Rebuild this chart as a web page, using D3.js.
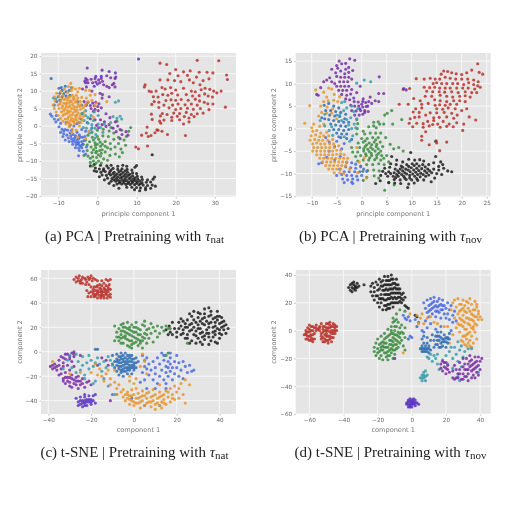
<!DOCTYPE html>
<html><head><meta charset="utf-8"><script src="https://cdn.jsdelivr.net/npm/d3@7"></script>
<style>html,body{margin:0;background:#fff}svg{display:block;filter:blur(0.5px)}</style></head><body><svg id="c" width="512" height="512"></svg>
<script>
const colors={red:"#b8332a",black:"#1d1d1d",green:"#3c8c3f",orange:"#e8952b",blue:"#4a6be0",steel:"#2f6db3",teal:"#3a9bab",purple:"#7a2ea5",indigo:"#5b34c4"};
// ---------- (a) PCA natural
const aRed=[[25.5,18.8],[31,18.7],[16,18],[17.7,17.6],[33,14.6],[33.2,13.3],[20,16.2],[22,15.5],[23.7,15.8],[23,14.5],[18.5,15],[20.6,14.4],[26,15.4],[28,15.4],[29.5,15.2],[25.3,14],[27,13],[28.5,13.5],[12.2,11.8],[12,11.2],[16,13.2],[18,13.2],[19.7,13],[21.3,12.7],[23.5,13.2],[24.5,12.4],[26.2,11.8],[15,10],[13.8,9.8],[13.2,10],[16.5,11],[17.3,10.6],[18.7,11],[20,10.3],[22,10.8],[24,10],[25,9.8],[26.5,10.4],[27.5,10.8],[28.7,10.5],[29.7,10],[30.5,9.5],[31.6,10],[14.3,8.4],[15.5,8.3],[16.7,9],[18,8.8],[19,9.4],[20.5,8.9],[22.7,9],[24.3,8.6],[26,8.7],[27.4,9.2],[28.3,8.6],[29.4,8.3],[14.5,7],[15.7,6.8],[17.5,7.3],[18.8,7.5],[20,7.4],[21.4,7.6],[23.2,7.4],[25,7.7],[26.1,7.2],[27.3,6.8],[13.9,6.2],[17,6],[19.2,6],[20.6,6.3],[22.4,6.1],[24,6.3],[25.5,6],[28.2,6.4],[29.5,6.3],[32.7,5.4],[15.7,5.3],[18.3,5.2],[20,4.7],[21.3,5],[23,5.1],[24.5,4.8],[26.3,5],[28.5,4.7],[13.8,3.4],[16.6,3.6],[17.8,3.3],[19.5,3.7],[21,3.6],[22.7,3.9],[24,3.3],[25.5,3.5],[27,3.7],[16.1,2.9],[19,2.5],[20.4,2.8],[22.2,2.7],[23.4,2.3],[24.7,2.7],[17,1.7],[15.9,1.4],[19,1.6],[21,1.8],[23.4,1.2],[22,0.6],[14,1.9],[16.2,0.8],[12.7,-0.3],[15.5,-1.2],[16.5,-1.5],[11.3,-2.6],[14.7,-1.9],[15.2,-1.1],[13.7,-2.7],[12.5,-2],[17.9,-2.4],[22.5,-2.7],[13,-3],[9.8,-6],[10.5,-6.5],[12.8,-5.7]];
const aBlack=[[14,-8.2],[10,-11.3],[9.6,-11.8],[7.5,-11.5],[6.5,-11.2],[5.2,-11.5],[3.5,-11.2],[2.4,-11.4],[0.8,-11.2],[-0.8,-11],[-1.8,-11.4],[-0.5,-12],[0.5,-12.3],[1.6,-12.2],[2.8,-12],[4,-12.1],[5.2,-12.4],[6.3,-12.2],[7.6,-12.4],[8.8,-12.6],[-0.2,-13],[0.9,-13.2],[2,-13],[3.2,-13],[4.3,-13.2],[5.5,-13.1],[6.6,-13.3],[7.7,-13.2],[9,-13.4],[10,-13.6],[1.2,-14],[2.3,-14.1],[3.4,-14],[4.6,-14.1],[5.7,-14],[6.8,-14.2],[7.9,-14.1],[9,-14.3],[10.2,-14.4],[11.3,-14.6],[2.6,-14.9],[3.7,-15],[4.8,-15],[5.9,-14.9],[7,-15.1],[8.1,-15],[9.2,-15.2],[10.3,-15.2],[11.5,-15.3],[12.8,-15.4],[14.6,-14.6],[14.2,-15.2],[3.5,-15.8],[4.7,-15.8],[5.8,-15.9],[6.9,-15.8],[8,-16],[9.1,-15.9],[10.2,-16],[11.4,-16.2],[12.5,-16.1],[13.6,-16],[5,-16.6],[6.2,-16.6],[7.3,-16.7],[8.4,-16.7],[9.5,-16.8],[10.6,-16.8],[11.7,-16.9],[12.8,-17],[14,-16.9],[14.8,-17.2],[5.5,-17.8],[7.5,-17.5],[8.8,-17.5],[10,-17.6],[11,-17.7],[12.3,-17.7],[13.6,-17.8],[9.5,-18.2],[10.8,-18.5],[12.3,-18.2],[4.2,-17],[3,-16.4],[1.8,-15.4],[0.5,-14.5],[-0.8,-12.8]];
const aBlackFill=[[4.2,-14.5],[5.2,-14.6],[6.3,-14.6],[7.4,-14.6],[8.5,-14.7],[9.6,-14.8],[4.2,-15.4],[5.3,-15.5],[6.4,-15.5],[7.5,-15.6],[8.6,-15.6],[9.7,-15.6],[10.8,-15.7],[5.6,-16.3],[6.7,-16.3],[7.8,-16.4],[8.9,-16.3],[10,-16.4],[11,-16.5],[3,-13.6],[4,-13.6],[5,-13.7],[6.1,-13.7],[7.2,-13.8],[8.3,-13.8],[1.5,-12.7],[3.5,-12.6],[6,-12.8],[7.1,-12.8]];
const aGreen=[[8.5,-0.4],[8,-1.5],[6.2,-1.2],[7.4,-3],[6.8,-4],[7.2,-5.5],[5.4,-3.2],[4.2,-2],[3,-1.4],[1.5,-0.9],[0,-1.2],[-1.4,-1.8],[-2.4,-2.6],[-3,-4],[-3.6,-5.2],[-2.6,-5.4],[-1.3,-3.2],[0,-3],[1.4,-2.8],[2.8,-3],[4.2,-3.8],[5.4,-5],[6,-6.6],[4.5,-6],[3.3,-5],[2,-4.4],[0.7,-4.6],[-0.6,-4.8],[-1.6,-6],[-2.6,-7],[-3.4,-8.4],[-2.4,-8.6],[-1.4,-7.6],[-0.4,-6.2],[0.8,-5.8],[2,-5.8],[3.4,-6.6],[4.6,-8],[3.2,-8.4],[2,-7.4],[0.6,-7],[-0.4,-7.6],[-1.2,-8.8],[-0.2,-9],[0.8,-8.6],[1.6,-9.4],[2.6,-9.8],[0.3,-10],[-1,-10],[-1.8,-10.4],[-1.2,-11.4],[-0.3,-10.6],[1,-10.6],[5.6,-8.8],[6.4,-7.6],[5,1.4],[3.5,-0.4],[-0.5,-5.5],[-1,-4],[1.2,-6.8],[0.2,-8.2],[-1,-6.8],[0,-5.2],[1.3,-5.2],[-2,-4.5],[0.3,-3.8],[-0.2,-7.2],[1,-7.8],[-1.8,-9.2],[2.6,-6.2]];
const aBlue=[[-12,3.4],[-11.6,2.8],[-11,2],[-10.6,1.2],[-10,1.8],[-9.4,0.8],[-9.8,-0.2],[-9,-0.9],[-8.2,-1],[-9.4,-1.8],[-8.6,-2.2],[-7.8,-2.6],[-7,-2],[-6.2,-2.4],[-5.2,-1.8],[-4.6,-2.6],[-7.4,-3.4],[-6.6,-3.6],[-5.8,-3.4],[-4.8,-3.6],[-3.8,-3.2],[-7.2,-4.4],[-6.4,-4.4],[-5.6,-4.6],[-4.8,-4.6],[-4,-4.4],[-6.3,-5.2],[-5.4,-5.4],[-4.6,-5.4],[-3.8,-5.2],[-5.6,-6.2],[-4.8,-6.3],[-4,-6.2],[-4.6,-7],[-3.6,-7.2],[-2.8,-6],[-4.8,-8.5],[-3,-8],[-8.8,-3],[-8.2,-4],[-3.2,-3],[-10.5,3],[-8,1],[-6,0],[-4,-1],[-5.2,0.7],[-7,0.2],[-3,-1.5],[-8.6,-1.4],[-7.6,-1.2],[-6.6,-1.2],[-5.6,-2.8],[-6.8,-2.8],[-4.4,-3.2],[-5.2,-4],[-6,-4],[-5,-5],[-4.2,-5.8],[-3.4,-4.2]];
const aSteel=[[-11.8,13.6],[-9.8,10.8],[-9.2,11],[-9,10.2],[-8.2,11.4],[-9.6,9.4],[-8.6,9.2],[-8,9.8],[-7.2,10.2],[-10,8.4],[-9,8.4],[-8,8.6],[-10.4,7],[-9.6,7.4],[-11,6],[-6.6,11],[-7,8.8],[-5,7],[-4,6],[-3.8,3.6],[-4.2,2],[-2.6,1],[-1.4,-0.5]];
const aTeal=[[-11.2,8],[-10.6,7.8],[-4,3.6],[-3,3],[-3.4,1.6],[-2.4,2.4],[-1.6,3],[-2.4,0.8],[-1.4,0.4],[-3.6,-0.4],[-2.8,-0.6],[-1.6,-1],[-0.6,-0.6],[0.2,0.6],[0.8,-0.4],[1.8,0.6],[-1,1.6],[-2,-2],[-0.4,-2.4],[4,2.7],[5,2.2],[5.8,2.8],[6.2,2],[3.4,1],[-0.8,4],[-4.6,1],[-3,4.4],[0.2,3],[1.4,-1.8],[4.6,6.8],[5.4,7.2],[-0.6,-3.4]];
const aOrange=[[-11,8.4],[-10.4,9.4],[-9.4,9.9],[-8.4,10.6],[-7.4,11.3],[-6.4,11],[-6.8,12.2],[-6.6,10.2],[-5.6,10.6],[-5,9.8],[-4.6,10.8],[-7.6,9.6],[-8.8,8.8],[-9.8,8.6],[-10.8,7.2],[-11.3,6],[-11,5],[-10.5,4],[-10,3],[-9.4,2.2],[-8.8,1.4],[-8,0.6],[-7.2,-0.2],[-6.4,-0.9],[-5.4,-1.2],[-4.6,0],[-4.2,1],[-3.8,1.8],[-3.6,2.8],[-3.4,4],[-3.6,5.2],[-3,6.4],[-2.4,7],[-1.4,7.4],[-1.8,8.8],[-0.6,9],[-2.8,8],[-4,8.2],[-3,10.2],[-10,6],[-9.4,7],[-8.4,7.6],[-7.4,8.2],[-6.4,8.8],[-5.4,8.8],[-4.4,7],[-9.8,5],[-8.9,5.8],[-7.9,6.6],[-6.9,7.2],[-5.9,7.6],[-4.9,6.2],[-9.2,4],[-8.3,4.8],[-7.3,5.4],[-6.3,6.2],[-5.3,5.4],[-4.3,4.8],[-8.8,3],[-7.9,3.6],[-6.9,4.2],[-5.9,4.8],[-4.9,3.8],[-8.2,2],[-7.4,2.6],[-6.4,3.2],[-5.4,2.6],[-4.4,3],[-7.6,1.2],[-6.8,1.6],[-5.9,2],[-5,1.2],[-6.8,0.4],[-5.8,0.6],[-9.6,6.4],[-8.6,6.6],[-7.6,7.4],[-6.6,7],[-5.6,6.8],[-7,5.8],[-6,5.6],[-8,5.4],[-7.6,4.4],[-6.6,5],[-5.6,4.2],[-4.6,5.6],[-8.6,4.4],[-7,3],[-6,1.2],[-5.2,3.2],[-2,10.2],[-0.6,5.8],[2.4,7],[-5,-3.2],[-6.5,-1.8],[-3,-3.6],[-2.2,-1.5],[-1,2.5],[-3.2,5.8],[-0.2,6.6],[-9.1,7.8],[-8,8],[-7,8.4],[-6,8.2],[-5,8],[-9,5.2],[-8,6.2],[-7.2,6.6],[-6.2,7.8],[-5.2,7.2],[-8.4,3.4],[-7.4,3.8],[-6.2,3.8],[-5.2,4.6],[-4.2,6],[-7.6,2],[-6.6,2.2],[-5.6,3],[-4.6,2.2],[-7.2,0.9],[-6.2,1.4],[-5.4,1.8]];
const aPurple=[[-2.6,16.6],[1.2,16],[2.4,14.4],[3.4,13.8],[4.5,13.6],[4.7,14],[-3,13.6],[-2.6,13.2],[-1.6,13.4],[-0.6,13.6],[0.3,13.2],[1,13.6],[1.3,12.8],[-3,12.4],[-2.4,12.4],[-1.2,12.4],[-0.4,12.6],[0.6,12.4],[1.6,11.8],[3.8,11.8],[4.2,12.2],[3,11],[4.5,11.2],[-2.8,11.2],[2.4,11.4],[0.7,9.4],[1.3,9],[-1.4,10],[-3.8,10.6],[1.2,8],[3,8.4],[-3.4,7],[-2.4,6.8],[-1.2,6.6],[-0.4,6.8],[0.4,6.4],[-2.8,6],[-1.8,5.9],[-0.8,5.8],[0.1,5.6],[1,5.2],[-1.6,5],[-0.6,4.8],[0.2,4.4],[-1,4.2],[2.2,3.5],[-0.6,1.8],[0.8,1.8],[1.8,1.2],[3,0.4],[2.2,-0.1],[4,-0.6],[4.6,1.2],[5.2,0],[5.8,-1],[4.8,-1.6],[6.3,-2.4],[5.8,-3.6],[7.3,-1.6],[7.8,-2.6],[3.2,2.4],[0.3,-0.5],[1.2,0.4],[-0.2,0.2],[-1.8,2.1]];
const aIndigo=[[10.5,19.2],[-0.4,14.2],[1,14.2],[3,15.6],[4.6,15.2],[-3.2,12.8],[0,12],[-0.8,11.4]];
// ---------- (b) PCA novel
const bRed=[[23.2,14.4],[24.2,12.1],[23.5,12.5],[21,12.4],[22,13],[16.4,12.8],[17.2,12.7],[15.9,12.1],[18,12.4],[18.9,12.2],[20,12],[10.9,11.1],[12.5,11],[13.7,11.2],[14.7,11],[15.6,11],[16.7,11.4],[17.7,11.2],[18.8,11],[20,11],[21.2,11],[22.4,10.8],[23.3,10.4],[14.3,10],[15,10.2],[16,10],[17,10],[18.2,10],[19.2,10],[20.4,9.8],[21.4,10.2],[22.4,9.8],[23.2,9.5],[8.3,8.7],[9.6,8.9],[12.5,9.2],[13.6,9.1],[14.6,9.2],[15.6,9],[16.7,9],[17.7,9],[19,9],[20.2,9],[21.3,9],[22.6,8.8],[23.7,9.2],[13,8.3],[14.2,8.2],[15.5,8.2],[16.6,8.1],[18,8.2],[19.3,8],[20.7,8.2],[22,8],[23,8],[12.7,7.2],[14,7.2],[15.7,7.4],[17,7.2],[18.2,7],[19.6,7.2],[20.7,7.3],[21.7,7],[10.4,6.7],[11.7,6.2],[14.6,6.4],[15.7,6.2],[17,6],[18.4,6.2],[19.6,6.2],[20.7,6],[7.5,5.4],[9.3,5.4],[12,5.4],[13.3,5.6],[14.7,5.2],[15.6,5.3],[16.7,5.2],[17.7,5.4],[19,5.4],[10.8,4.4],[12,4.6],[15,4.4],[16.2,4.3],[17.3,4.6],[18.7,4.4],[20,4],[10.3,3.7],[11.5,3.6],[13.7,3.5],[15,3.5],[16.5,3.6],[18,3.4],[19.1,3],[21,4.4],[12.8,3],[14.4,2.4],[15.5,2.5],[17,2.6],[18.4,2.3],[21.5,2.6],[9.7,2.2],[10.6,2.5],[11.5,2.6],[13.2,1.6],[14.4,1.8],[16.3,1.6],[22.8,1.9],[9.5,1.2],[11,1.2],[12.3,1.1],[13.5,0.6],[14.2,0.9],[15.2,1],[17.5,1],[19,1.3],[20.4,1],[10.2,0.4],[12.3,0.3],[12.8,-0.7],[15.7,0.3],[17,0.5],[18.3,0.4],[20.2,-0.4],[12,-1.7],[12,-2.6],[13.5,-3.6],[15,-3.2],[17,-3],[15.6,-4.9],[14.9,-2.7]];
const bBlack=[[14.8,-2.8],[9.8,-5.3],[6,-6.2],[7,-7],[8.2,-7.4],[9.4,-6.8],[10.6,-7],[11.6,-6.9],[12.4,-7.2],[14.8,-6.2],[15.8,-7.4],[16.2,-8],[5.8,-7.8],[6.9,-8],[7.9,-8.3],[9,-8],[10.1,-7.8],[11,-7.8],[12.2,-8],[13.4,-8],[14.4,-7.6],[15.4,-8.4],[16.4,-8.8],[4.6,-8.8],[5.6,-8.6],[6.7,-9],[7.7,-9],[8.8,-9],[9.9,-8.7],[11,-8.8],[12,-8.9],[13.2,-9],[14.4,-9],[15.4,-9.2],[17.2,-9.4],[18,-9.6],[4.2,-9.5],[5.4,-9.6],[6.5,-9.8],[7.5,-9.8],[8.6,-9.8],[9.7,-9.6],[10.8,-9.7],[11.8,-9.9],[13,-9.8],[14,-9.8],[15,-10],[16,-10.2],[3.8,-10.4],[5.2,-10.6],[6.3,-10.6],[7.3,-10.6],[8.4,-10.6],[9.6,-10.4],[10.6,-10.6],[11.7,-10.7],[12.8,-10.6],[14.6,-11],[6.5,-11.3],[7.7,-11.4],[8.9,-11.3],[10,-11.4],[11.2,-11.5],[12.4,-11.4],[3.7,-11.6],[5.4,-12],[6.6,-12.1],[7.8,-12.2],[9.4,-12.3],[10.5,-12.1],[2.8,-12.2],[9.2,-13.1],[13.9,-11.8],[8.2,-8.6],[9.4,-8.4],[10.5,-8.2],[11.5,-8.3],[12.7,-8.5],[7.2,-9.4],[8.2,-9.4],[9.3,-9.2],[10.4,-9.2],[11.4,-9.3],[12.6,-9.4],[13.6,-9.4],[7,-10.2],[8,-10.2],[9,-10.1],[10.2,-10.1],[11.2,-10.2],[12.3,-10.2],[13.4,-10.3],[6.8,-10.9],[8.6,-11],[9.6,-11],[11,-11.1],[5.8,-10],[4.8,-10]];
const bGreen=[[4.6,-13.7],[6.5,-12.5],[5.4,-12],[0.3,-11.5],[1,-10.8],[2.5,-10.5],[3.4,-11],[0.2,-9.5],[1.2,-9.3],[2.4,-9.2],[3.5,-9.4],[-0.2,-8.3],[1,-8],[2.2,-8],[3.4,-7.8],[4.5,-8],[5.4,-7.4],[-0.8,-7.2],[0.3,-7],[1.4,-7],[2.6,-6.9],[3.8,-7],[-1.2,-6.2],[-0.2,-6],[0.9,-6],[2,-6],[3,-5.9],[4,-6],[5,-6],[-1.8,-5.2],[-0.8,-5.2],[0.4,-5],[1.5,-5.1],[2.7,-5],[3.8,-5],[-2,-4.2],[-0.4,-4.2],[0.7,-4],[1.8,-4.2],[2.9,-4],[4.2,-4],[6.4,-4.5],[7.4,-4.2],[-0.7,-3.2],[0.3,-3],[1.5,-3.2],[2.5,-3],[3.7,-3],[0,-2.2],[1.1,-2.2],[2.2,-2],[3.3,-2],[4.8,-2],[-1,-1.2],[0.6,-1.2],[1.7,-1],[2.8,-1],[3.8,-1],[-0.9,0],[0.3,-0.6],[1.4,0.4],[2.4,0.6],[3.6,1],[2.9,0.2],[2.4,1.4],[3.3,1.5],[4.4,1],[-1,2],[-0.8,1.1],[4.6,3],[5.1,3.4],[6,4],[8,2],[6.2,1],[5.7,-3.5],[8.3,-5],[0.4,-4.5],[1.2,-4.6],[2.2,-4.6],[3.3,-4.5],[0.8,-5.6],[1.9,-5.5],[3.4,-5.5],[1,-3.6],[2,-3.6],[3,-3.5],[1.6,-6.5],[3,-6.5],[4.4,-6.6],[0.7,-2.7],[2.8,-2.5]];
const bBlue=[[-8.6,-7.8],[-8,-7.6],[-7,-6.4],[-5.4,-7],[-4.3,-6.2],[-3,-7.5],[-2,-7.6],[-1.2,-7.9],[-3.2,-8.5],[-2.2,-8.7],[-1.2,-8.8],[-0.2,-8.5],[-4.4,-9],[-3.5,-9.6],[-2.5,-9.6],[-1.4,-9.6],[-0.4,-9.6],[0.4,-9],[-5,-10.4],[-4,-10.2],[-3,-10.4],[-2,-10.4],[-1,-10.6],[0,-10.4],[-3.8,-11.2],[-2.8,-11.4],[-1.8,-11.2],[-0.8,-11.4],[-3.5,-12],[-1.8,-12.2],[-2,-11.9],[-6.5,-5],[-6.5,-3],[-5.4,-4],[-7.2,-2],[-4.6,-1.8],[-4,-4.5],[-5,-2.8],[-3.5,-3.3],[1,-9.5]];
const bSteel=[[-7.5,5.2],[-6.6,5.6],[-5.6,5],[-4.6,4.6],[-7.2,4],[-6.2,4],[-5.2,3.8],[-4.2,3.6],[-3.2,3.2],[-6.4,3],[-5.4,2.8],[-4.4,2.7],[-3.4,2.2],[-7.4,2.2],[-6.6,2],[-5.6,1.8],[-4.6,1.6],[-3.6,1.4],[-2.6,1.4],[-6.2,1],[-5.2,0.8],[-4.2,0.6],[-3.2,0.5],[-5.6,-0.2],[-4.6,-0.2],[-3.6,-0.4],[-2.6,-0.2],[-5,-1],[-4,-1.2],[-3,-1.2],[-4.2,-2],[-3,-2.2],[-8,2.4],[-2,-2.4]];
const bTeal=[[0.5,10.8],[1.8,10.4],[-1,10.1],[-3.4,6],[-3,4.6],[-2,5],[-7.4,3.2],[-8.3,1.8],[-7.4,0.6],[-6.5,-0.4],[-1.6,3.8],[-1,2.2],[-2.2,2.4],[-1.5,1],[-2,0],[-1.8,-1.6],[-5.8,-1.5],[-4,5.8],[-4.4,3],[-3,2],[-3.6,4],[-5,3],[-4,1.8],[-2.6,0.8],[-6,0.4],[-3.5,-1.8],[-2.4,-2.8],[-1.2,0.2],[-0.8,4.4]];
const bOrange=[[-11.4,1.2],[-10.4,5.1],[-9.2,8.6],[-7.6,8.1],[-6.6,9],[-6,8.8],[-5.5,7.6],[-4.4,7.1],[-7,7],[-7.6,6],[-6.7,6.2],[-5.6,6.3],[-4.8,6],[-8.2,5],[-6.9,4.8],[-5.8,4.4],[-8,3.6],[-7,3.4],[-6,3.4],[-5,2.2],[-8.6,2.8],[-7.6,1],[-8.4,0.5],[-9.6,1],[-10,0.2],[-9.8,-0.6],[-9,-0.4],[-8.2,-1],[-7,-0.8],[-10.1,-1.6],[-9.2,-1.4],[-8.4,-1.8],[-7.6,-1.6],[-6.6,-1.6],[-10.3,-2.6],[-9.4,-2.4],[-8.6,-2.6],[-7.8,-2.6],[-6.8,-2.6],[-5.8,-2.4],[-9.8,-3.4],[-9,-3.2],[-8.2,-3.4],[-7.4,-3.4],[-6.4,-3.4],[-5.6,-3.4],[-9.6,-4.2],[-8.8,-4.2],[-8,-4.2],[-7.2,-4.2],[-6.4,-4.2],[-5.5,-4.2],[-4.6,-3.8],[-9.8,-5],[-9,-5],[-8.2,-5],[-7.4,-5],[-6.6,-5],[-5.8,-5],[-5,-4.8],[-4.2,-4.8],[-9,-5.8],[-8.2,-5.8],[-7.4,-5.8],[-6.6,-5.8],[-5.8,-5.8],[-5,-5.7],[-4.2,-5.6],[-3.5,-5.8],[-8.4,-6.6],[-7.6,-6.6],[-6.8,-6.6],[-6,-6.6],[-5.2,-6.6],[-4.4,-6.6],[-3.6,-6.6],[-2.8,-6.6],[-7.8,-7.4],[-7,-7.4],[-6.2,-7.4],[-5.4,-7.4],[-4.6,-7.4],[-3.8,-7.4],[-3,-7.4],[-7.2,-8.2],[-6.4,-8.2],[-5.6,-8.2],[-4.8,-8.2],[-4,-8.2],[-3.2,-8.2],[-6.6,-9],[-5.8,-9],[-5,-9],[-4.2,-9],[-5.5,-9.8],[-4.4,-9.8],[-3.6,-10],[-2.4,-9],[-0.5,-7.4],[-0.8,-9.8],[1,-11],[0.5,-6.5],[-1,-4.2]];
const bPurple=[[-4.5,15],[-2.4,15.5],[-1.4,15.2],[-5,14],[-4,14.4],[-3.2,14.5],[-6,13.2],[-4.8,13.4],[-3.2,13.2],[-2.6,13.6],[-5.2,12.4],[-4.2,12.8],[-3.4,12.2],[-2.6,12.5],[-1.8,12.9],[-5,11.6],[-4.2,11.4],[-3.4,11.4],[-2.6,11.4],[-2,11],[-6.4,11.3],[-7,10.8],[-6,10.4],[-5.4,10],[-4.4,10.4],[-3.6,10.4],[-2.8,10.4],[-7.6,10.4],[-5,9.4],[-4.2,9.4],[-3.4,9.4],[-2.6,9.4],[-8.2,9.1],[-4.6,8.5],[-3.8,8.5],[-3,8.5],[-2,8.7],[-9,7.6],[-8.7,7.4],[-4,7.6],[-3,7.4],[-2.2,7.7],[-3.2,6.6],[-2.4,6.4],[-1.5,6],[-0.7,5.9],[0,5.4],[0.8,5.8],[1.4,6],[-2.2,5.2],[-1.4,5],[-0.6,5],[0.2,4.8],[0.9,4.9],[2,5.6],[2.7,6.2],[3.4,6],[-2,4],[-1.1,3.9],[-0.2,4],[0.6,4],[-1.4,3],[-0.5,3],[0.2,3.2],[1.3,3.8],[0.3,6.6],[1.7,7],[3.4,7.8],[4.4,7.8],[3.5,11.5],[-0.3,9.4],[-1,8]];
const bIndigo=[[8.4,8.9],[8.9,8.6],[-1.6,6.8],[0.2,6],[1.2,5],[-0.4,4.4],[0.6,3.6]];
// ---------- (c) t-SNE natural
const cRed=[[-28,59],[-27,61],[-26,58],[-25.5,62],[-24.5,59],[-24,56],[-23,60],[-22,57],[-21.5,61],[-21,59],[-20,62],[-19.5,58],[-19,60],[-18,59],[-27,57],[-25,56],[-22.5,55],[-21,55],[-17,58],[-16,55],[-15,58],[-14,56],[-13,59],[-12,58],[-11,59],[-17.5,53],[-16,52],[-15,54],[-14,52],[-13,54],[-12,53],[-11.5,55],[-20,53],[-19,51],[-18,50],[-17,50],[-16,49],[-15,50],[-14,49],[-13,50],[-12,49],[-11,51],[-22,50],[-21,48],[-20,49],[-19,47],[-18,47],[-17,47],[-16,46],[-15,47],[-14,46],[-13,47],[-12,46],[-11,47],[-21.5,45],[-20,45],[-18.5,45],[-17,44],[-15.5,44],[-14,44],[-12.5,44],[-11,44.5],[-26,60],[-24,61],[-22.5,59],[-25,57.5],[-20.5,60],[-17,54],[-18.5,53],[-15.5,51.5],[-13.5,51],[-19,49],[-17,48.5],[-15,48.5],[-13,48],[-18,45.8],[-15,45.5],[-12,51]];
const cBlack=[[15,18],[16.5,21],[18,24],[19,19],[20,16],[18,14],[21,24],[22,21],[23,18],[22,14],[24,11],[20,12],[25,26],[24,23],[25,20],[26,17],[25,14],[27,9],[29,7],[26,7],[27,29],[28,26],[27,23],[28,20],[29,17],[28,14],[30,11],[31,8],[30,32],[30,28],[31,25],[30,22],[31,19],[31,15],[32,12],[33,10],[33,35],[33,31],[33,28],[34,25],[33,22],[34,18],[34,15],[35,12],[36,9],[36,33],[36,30],[37,27],[36,24],[37,20],[37,16],[37,12],[38,8],[39,33],[39,29],[39,26],[40,23],[39,19],[40,15],[40,11],[39,7],[41,28],[42,25],[42,21],[42,18],[41,14],[43,22],[44,19],[43,15],[22,27],[26,31],[28,33],[35,36],[32,6],[35,6],[17,16],[16,14],[23,25],[24,20],[26,22],[27,18],[29,24],[29,13],[30,19],[32,27],[32,23],[32,16],[35,29],[35,23],[35,20],[35,15],[38,24],[38,21],[38,17],[38,14],[38,28],[41,20],[41,24],[40,29],[33,13],[31,31],[21,19],[23,15],[25,11],[40,18]];
const cGreen=[[-9,21],[-8,16],[-7,19],[-6,22],[-8,12],[-7,9],[-6,14],[-5,17],[-5,23],[-5,7],[-4,11],[-4,20],[-3,15],[-3,24],[-3,5],[-2,18],[-2,9],[-1,13],[-1,22],[-1,3],[0,16],[0,7],[1,20],[1,11],[1,24],[2,14],[2,5],[3,18],[3,9],[4,22],[4,12],[4,3],[5,15],[5,25],[6,7],[7,19],[7,11],[8,23],[8,15],[9,20],[9,8],[10,17],[11,21],[11,12],[12,15],[13,20],[14,17],[15,21],[16,19],[-7,12],[-6,17],[-3,10],[-2,14],[-5,12],[-1,9],[-2,4],[-9,9],[6,14],[3,14],[0,12],[17,19],[25,7],[15,-3],[16,-1],[-6,7],[-4,16],[-4,13],[-2,20],[-1,17],[1,16],[2,10],[2,19],[3,7],[-6,11],[-3,19],[-5,20],[-1,6],[1,8],[4,9],[5,11],[6,18],[5,21],[0,20]];
const cSteel=[[-10,-3],[-9,-8],[-9,-13],[-8,-2],[-8,-6],[-8,-11],[-8,-16],[-7,-4],[-7,-9],[-7,-14],[-7,-19],[-6,-1],[-6,-6],[-6,-12],[-6,-17],[-5,-3],[-5,-8],[-5,-14],[-5,-20],[-4,-1],[-4,-5],[-4,-10],[-4,-16],[-3,-3],[-3,-8],[-3,-13],[-3,-18],[-2,-5],[-2,-11],[-2,-15],[-1,-3],[-1,-8],[-1,-13],[-1,-18],[0,-6],[0,-11],[0,-15],[1,-5],[1,-9],[1,-13],[-5,-11],[-3,-6],[-7,-12],[-4,-13],[-2,-8],[-6,-9],[2,-8],[-1,-11],[-10,-10],[-18,2],[-17,2],[-8,-8],[-6,-4],[-5,-6],[-4,-8],[-3,-10],[-3,-15],[-2,-3],[-2,-13],[-1,-6],[0,-9],[0,-13],[-5,-16],[-7,-7],[-6,-15]];
const cBlue=[[4,-3],[6,-5],[7,-10],[5,-12],[8,-15],[4,-17],[7,-19],[5,-23],[9,-8],[10,-13],[10,-18],[9,-23],[11,-5],[11,-26],[12,-10],[13,-15],[12,-20],[14,-7],[14,-3],[15,-12],[15,-17],[14,-23],[16,-8],[16,-13],[16,-20],[17,-5],[17,-10],[17,-16],[18,-13],[18,-23],[19,-8],[19,-18],[20,-3],[20,-13],[21,-9],[21,-20],[22,-15],[23,-8],[23,-22],[24,-12],[25,-17],[26,-11],[27,-16],[28,-15],[13,-1],[17,-1],[10,-30],[6,-30],[3,-25],[15,-26],[-1,-38],[5,-44],[15,-30],[-10,-35],[6,-14]];
const cOrange=[[-16,-14],[-15,-20],[-14,-24],[-13,-18],[-12,-15],[-11,-22],[-11,-27],[-17,-19],[-9,-25],[-8,-30],[-8,-35],[-7,-27],[-6,-33],[-5,-37],[-5,-31],[-4,-35],[-4,-40],[-3,-33],[-3,-38],[-2,-43],[-2,-36],[-1,-31],[-1,-40],[0,-35],[0,-44],[1,-38],[1,-30],[2,-42],[2,-34],[3,-37],[3,-46],[4,-32],[4,-40],[5,-36],[5,-44],[6,-38],[7,-33],[7,-41],[8,-37],[8,-45],[9,-31],[9,-40],[10,-35],[10,-47],[11,-42],[12,-37],[12,-33],[13,-41],[13,-46],[14,-35],[14,-39],[15,-43],[15,-32],[16,-37],[17,-41],[17,-30],[18,-35],[19,-39],[19,-28],[20,-33],[21,-38],[21,-30],[22,-26],[23,-35],[24,-42],[26,-27],[24,-23],[1,-22],[3,-12],[5,-8],[6,-18],[4,-2],[-2,-24],[0,-26],[-9,-15],[-18,-10],[-20,-17],[12,-27],[-30,-18],[-38,-8],[-2,-20],[-25,-17],[-2,-39],[0,-41],[2,-38],[4,-36],[6,-42],[8,-41],[9,-36],[10,-43],[11,-38],[12,-44],[13,-36],[14,-42],[16,-33],[-3,-35],[-1,-36],[1,-42],[6,-34],[18,-38],[3,-41]];
const cTeal=[[-31,-7],[-29,-13],[-27,-2],[-26,-8],[-25,-15],[-24,-4],[-24,-11],[-23,-19],[-22,-9],[-21,-3],[-21,-14],[-20,-7],[-19,-12],[-18,-24],[-17,-5],[-16,-10],[-15,-16],[-14,-8],[-13,-13],[-12,-4],[-14,-22],[-10,-11],[-27,-17],[-23,-22],[-9,-35],[-8,-35],[-12,-28],[5,-7],[12,-44],[-33,-14],[-18,-9],[-30,-3],[-11,-7],[-19,-26]];
const cPurple=[[-39,-12],[-38,-14],[-37,-10],[-37,-13],[-36,-15],[-35,-7],[-35,-11],[-35,-19],[-34,-4],[-34,-14],[-33,-9],[-33,-22],[-32,-2],[-32,-6],[-32,-17],[-32,-26],[-31,-11],[-31,-21],[-30,-4],[-30,-15],[-30,-25],[-29,-1],[-29,-8],[-29,-19],[-29,-29],[-28,-4],[-28,-23],[-28,0],[-27,-27],[-26,-20],[-26,-24],[-26,-30],[-25,-3],[-25,-27],[-24,-22],[-24,-26],[-23,-29],[-22,-25],[-21,-24],[-20,-27],[-33,-5],[-36,-12],[-30,-28],[-27,-24],[-34,-18],[-31,-24],[-28,-12],[-17,-11],[-15,-5],[-13,-7],[-12,-11],[-11,-40],[-33,-24],[-38,-11],[-33,-12],[-30,-6],[-31,-2],[-28,-2],[-28,-26],[-25,-24],[-29,-22],[-32,-21],[-27,-21],[-30,-21]];
const cIndigo=[[-27,-38],[-26,-41],[-25,-37],[-25,-43],[-24,-40],[-24,-45],[-23,-37],[-23,-42],[-22,-39],[-22,-44],[-21,-41],[-21,-36],[-20,-43],[-20,-39],[-19,-40],[-19,-36],[-18,-35],[-18,-42],[-23,-35],[-26,-44],[-24,-42],[-25,-40],[-23,-40],[-22,-41],[-21,-39],[-23,-44],[-20,-41]];
// ---------- (d) t-SNE novel
const dRed=[[-63,-3],[-62,0],[-62,-6],[-61,2],[-61,-4],[-60,4],[-60,-1],[-60,-7],[-59,3],[-59,-3],[-58,0],[-58,-6],[-58,-8],[-57,2],[-57,-2],[-56,4],[-55,1],[-54,3],[-54,0],[-53,-2],[-53,5],[-52,-5],[-52,1],[-52,-8],[-51,3],[-51,-3],[-50,5],[-50,0],[-50,-7],[-49,-4],[-49,-9],[-49,2],[-48,6],[-48,-1],[-48,-6],[-47,3],[-47,-2],[-47,-8],[-46,5],[-46,0],[-46,-5],[-45,2],[-45,4],[-45,-2],[-44,3],[-44,0],[-56,0],[-59,-5],[-61,-1],[-48,4],[-50,-2],[-52,-1],[-62,-3],[-61,-6],[-60,1],[-59,0],[-58,-3],[-58,3],[-56,2],[-60,-4],[-59,-7],[-57,-6],[-54,2],[-52,3],[-51,-6],[-51,0],[-50,2],[-50,-4],[-49,0],[-49,-7],[-48,2],[-48,-4],[-47,0],[-47,-5],[-46,3],[-46,-2],[-45,0],[-49,5],[-51,-8],[-53,-6],[-53,-4],[-62,-2]];
const dBlack=[[-37,31],[-36,33],[-36,29],[-35,31],[-35,34],[-34,30],[-34,33],[-33,29],[-33,32],[-32,34],[-32,31],[-31,32],[-28,33],[-24,32],[-24,28],[-23,34],[-23,25],[-22,31],[-22,22],[-22,28],[-21,35],[-21,25],[-20,33],[-20,20],[-20,29],[-19,37],[-19,23],[-19,17],[-18,26],[-18,32],[-18,20],[-17,36],[-17,29],[-17,23],[-17,15],[-16,39],[-16,33],[-16,26],[-16,18],[-15,36],[-15,30],[-15,22],[-15,15],[-14,39],[-14,33],[-14,26],[-14,19],[-13,36],[-13,30],[-13,23],[-13,16],[-12,40],[-12,33],[-12,27],[-12,20],[-11,37],[-11,30],[-11,23],[-11,17],[-10,34],[-10,27],[-10,20],[-9,37],[-9,30],[-9,23],[-8,33],[-8,27],[-8,20],[-7,30],[-7,24],[-6,26],[-6,20],[-5,27],[-5,22],[-4,24],[-4,18],[-3,17],[-2,16],[2,11],[3,10],[-35,28],[-34,35],[-33,31],[-20,25],[-19,30],[-18,35],[-18,23],[-17,32],[-16,29],[-16,22],[-15,33],[-15,26],[-15,18],[-14,36],[-14,29],[-14,23],[-14,16],[-13,33],[-13,26],[-13,19],[-12,37],[-12,30],[-12,24],[-11,34],[-11,27],[-11,20],[-10,31],[-10,24],[-9,33],[-9,27],[-9,20],[-8,30],[-8,24],[-7,27],[-7,21],[-6,23]];
const dGreen=[[-22,-15],[-22,-12],[-21,-18],[-21,-9],[-20,-13],[-20,-6],[-20,-16],[-19,-20],[-19,-10],[-18,-14],[-18,-4],[-18,-18],[-17,-8],[-17,-11],[-17,-21],[-16,-16],[-16,-2],[-16,-6],[-15,-12],[-15,-19],[-15,-9],[-14,-15],[-14,-4],[-14,1],[-13,-10],[-13,-18],[-13,-7],[-12,-13],[-12,-2],[-12,3],[-12,-16],[-11,-8],[-11,-5],[-11,-11],[-11,6],[-11,9],[-10,0],[-10,-14],[-10,-3],[-9,-10],[-9,3],[-9,-7],[-9,12],[-8,-12],[-8,-1],[-8,6],[-7,-9],[-7,-5],[-7,2],[-7,15],[-6,-7],[-6,-1],[-6,4],[-5,-2],[-5,-11],[-4,-5],[-4,-14],[-10,-17],[-11,-20],[-14,-21],[-4,2],[-10,7],[-12,-10],[-15,-16],[-17,-14],[-4,14],[-19,-15],[-18,-9],[-16,-12],[-15,-5],[-14,-12],[-14,-18],[-13,-14],[-13,-3],[-12,-7],[-11,-14],[-11,-2],[-10,-10],[-10,-6],[-9,-13],[-9,-3],[-8,-8],[-8,-4],[-9,8],[-10,3],[-12,0],[-7,-2],[-16,-9],[-18,-12]];
const dBlue=[[7,20],[8,16],[9,22],[9,13],[10,18],[10,10],[11,23],[11,15],[12,20],[12,12],[13,17],[13,24],[14,14],[14,10],[15,21],[15,17],[16,23],[16,13],[17,19],[17,9],[18,15],[18,22],[19,12],[19,18],[20,9],[20,16],[21,20],[21,12],[22,15],[22,8],[23,18],[24,11],[24,6],[25,14],[26,7],[-5,11],[-4,9],[-3,8],[-2,10],[-1,7],[-1,-4],[0,-5],[7,-1],[9,2],[6,0],[11,5],[14,1],[8,7],[17,3],[23,0],[21,-6],[2,8],[4,6],[11,19],[13,21],[14,18],[12,16],[16,18],[17,15],[15,14],[18,18],[10,14]];
const dOrange=[[3,11],[5,9],[6,12],[4,5],[7,5],[9,9],[11,10],[13,6],[15,5],[19,3],[21,3],[23,15],[24,20],[25,22],[26,17],[27,23],[27,12],[27,5],[28,19],[28,-1],[29,15],[29,8],[29,-7],[30,22],[30,11],[30,3],[30,-4],[31,18],[31,6],[31,-10],[32,13],[32,21],[32,1],[32,-6],[33,16],[33,9],[33,-2],[34,23],[34,4],[34,-11],[35,19],[35,12],[35,-4],[36,7],[36,1],[36,15],[36,-9],[37,21],[37,10],[37,-1],[38,17],[38,4],[38,-6],[39,12],[39,8],[39,14],[40,10],[41,8],[38,19],[35,-12],[30,-8],[26,2],[24,-3],[22,-9],[-5,-16],[-1,12],[25,9],[28,14],[33,20],[31,14],[34,8],[36,3],[29,4],[32,-11],[28,9],[28,4],[30,16],[30,7],[31,1],[32,9],[32,-3],[33,5],[34,14],[34,-1],[34,-7],[35,8],[35,2],[36,11],[37,5],[37,15],[33,-9],[31,-4],[38,10],[29,19]];
const dSteel=[[5,-13],[6,-11],[6,-15],[7,-9],[7,-13],[8,-11],[8,-15],[9,-13],[9,-9],[10,-16],[10,-11],[11,-14],[7,-4],[6,-6],[9,-5],[12,-3],[13,-7],[14,-4],[14,-10],[15,-1],[15,-7],[16,-12],[16,-4],[17,-9],[17,-1],[18,-6],[18,-11],[19,-3],[19,-8],[20,-12],[20,-5],[21,-9],[22,-2],[22,-6],[-2,-6],[13,-12],[11,-7],[3,3],[7,-15],[8,-13],[6,-13],[10,-13],[9,-15],[16,-7],[17,-5],[18,-8],[19,-6],[17,-12],[15,-10],[20,-8],[15,-4],[21,-5]];
const dTeal=[[5,-34],[6,-32],[6,-36],[7,-30],[7,-34],[8,-33],[8,-36],[9,-32],[8,-29],[9,-19],[10,-20],[11,-17],[12,-22],[13,-18],[14,-20],[15,-17],[15,-24],[18,-21],[20,-18],[21,-24],[22,-15],[24,-20],[25,-12],[26,-17],[27,-8],[27,-22],[28,-14],[29,-11],[30,-19],[31,-15],[33,-13],[35,-13],[27,-33],[28,-36],[39,-30],[16,-28],[23,-12],[29,-26],[24,-27],[6,-34],[7,-32]];
const dPurple=[[17,-24],[17,-27],[18,-22],[18,-29],[19,-26],[20,-23],[20,-31],[21,-28],[21,-25],[22,-30],[24,-34],[25,-25],[25,-35],[26,-28],[27,-31],[27,-34],[28,-23],[28,-28],[29,-35],[30,-20],[30,-26],[30,-31],[31,-24],[31,-33],[32,-20],[32,-28],[33,-24],[33,-31],[33,-36],[34,-18],[34,-26],[35,-21],[35,-29],[35,-34],[36,-24],[36,-32],[37,-19],[37,-27],[38,-22],[38,-30],[39,-25],[39,-19],[40,-28],[40,-22],[41,-20],[39,-32],[-10,-20],[31,-28],[28,-31],[24,-29],[20,-27],[37,-34],[34,-22],[36,-28],[38,-26],[37,-23],[33,-28],[35,-25],[26,-34],[30,-35],[19,-23],[32,-33]];
const dIndigo=[[-3,-52],[-2,-50],[-2,-53],[-1,-51],[-1,-54],[0,-50],[0,-52],[0,-55],[1,-51],[1,-53],[2,-52],[2,-54],[3,-52],[4,-53],[-1,-49],[1,-49],[-2,-55],[-1,-53],[0,-53],[1,-52],[-2,-51],[0,-51],[-3,-53],[2,-50],[-1,-55]];
// ---------- axis ticks and captions
const xTicksA=[-10,0,10,20,30], yTicksA=[-20,-15,-10,-5,0,5,10,15,20];
const xTicksB=[-10,-5,0,5,10,15,20,25], yTicksB=[-15,-10,-5,0,5,10,15];
const xTicksC=[-40,-20,0,20,40], yTicksC=[-40,-20,0,20,40,60];
const xTicksD=[-60,-40,-20,0,20,40], yTicksD=[-60,-40,-20,0,20,40];
const labelsPCA=["principle component 1","principle component 2"], labelsTSNE=["component 1","component 2"];
const panels=[
 {box:[41,53,195,144],xd:[-14.4,35.4],yd:[-20.3,20.9],xt:xTicksA,yt:yTicksA,lab:labelsPCA,cap:["(a) PCA | Pretraining with ","nat"],capY:241,capX:134.5,labY:18.5,
  s:[[aBlack,"black"],[aBlackFill,"black"],[aRed,"red"],[aGreen,"green"],[aBlue,"blue"],[aSteel,"steel"],[aPurple,"purple"],[aTeal,"teal"],[aOrange,"orange"],[aIndigo,"indigo"]]},
 {box:[295.7,53,195,144],xd:[-13.2,25.8],yd:[-15.2,16.8],xt:xTicksB,yt:yTicksB,lab:labelsPCA,cap:["(b) PCA | Pretraining with ","nov"],capY:241,capX:390.5,labY:18.5,
  s:[[bGreen,"green"],[bBlack,"black"],[bRed,"red"],[bPurple,"purple"],[bIndigo,"indigo"],[bSteel,"steel"],[bBlue,"blue"],[bOrange,"orange"],[bTeal,"teal"]]},
 {box:[41,270,195,144],xd:[-43.4,47.7],yd:[-50.9,66.8],xt:xTicksC,yt:yTicksC,lab:labelsTSNE,cap:["(c) t-SNE | Pretraining with ","nat"],capY:457,capX:134.5,labY:17.5,
  s:[[cRed,"red"],[cBlack,"black"],[cGreen,"green"],[cBlue,"blue"],[cSteel,"steel"],[cPurple,"purple"],[cIndigo,"indigo"],[cTeal,"teal"],[cOrange,"orange"]]},
 {box:[295.7,270,195,144],xd:[-68,46.2],yd:[-60,43.6],xt:xTicksD,yt:yTicksD,lab:labelsTSNE,cap:["(d) t-SNE | Pretraining with ","nov"],capY:457,capX:390.5,labY:17.5,
  s:[[dRed,"red"],[dBlack,"black"],[dGreen,"green"],[dBlue,"blue"],[dOrange,"orange"],[dSteel,"steel"],[dTeal,"teal"],[dPurple,"purple"],[dIndigo,"indigo"]]}
];
const svg=d3.select("#c");
panels.forEach(p=>{
  const [L,T,W,H]=p.box;
  const x=d3.scaleLinear().domain(p.xd).range([L,L+W]);
  const y=d3.scaleLinear().domain(p.yd).range([T+H,T]);
  svg.append("rect").attr("x",L).attr("y",T).attr("width",W).attr("height",H).attr("fill","#e5e5e5");
  const fmt=d=>d<0?"\u2212"+(-d):d;
  const gx=svg.append("g").attr("transform",`translate(0,${T+H})`).call(d3.axisBottom(x).tickValues(p.xt).tickSize(1.5).tickPadding(2.5).tickFormat(fmt));
  const gy=svg.append("g").attr("transform",`translate(${L},0)`).call(d3.axisLeft(y).tickValues(p.yt).tickSize(1.5).tickPadding(2).tickFormat(fmt));
  [gx,gy].forEach(g=>{g.select(".domain").remove();g.selectAll("line").attr("stroke","#777").attr("stroke-width",.5);
    g.selectAll("text").attr("fill","#666").style("font","5.7px 'DejaVu Sans'");});
  svg.append("g").selectAll("line").data(p.xt).join("line").attr("x1",d=>x(d)).attr("x2",d=>x(d)).attr("y1",T).attr("y2",T+H).attr("stroke","#fff").attr("stroke-width",.7);
  svg.append("g").selectAll("line").data(p.yt).join("line").attr("y1",d=>y(d)).attr("y2",d=>y(d)).attr("x1",L).attr("x2",L+W).attr("stroke","#fff").attr("stroke-width",.7);
  svg.append("text").attr("x",L+W/2).attr("y",T+H+p.labY).attr("text-anchor","middle").attr("fill","#777").style("font","6.6px 'DejaVu Sans'").text(p.lab[0]);
  svg.append("text").attr("transform",`translate(${L-19.5},${T+H/2}) rotate(-90)`).attr("text-anchor","middle").attr("fill","#777").style("font","6.6px 'DejaVu Sans'").text(p.lab[1]);
  p.s.forEach(([pts,c])=>svg.append("g").selectAll("circle").data(pts).join("circle")
    .attr("cx",d=>x(d[0])).attr("cy",d=>y(d[1])).attr("r",1.55).attr("fill",colors[c]).attr("fill-opacity",.85));
  const t=svg.append("text").attr("x",p.capX).attr("y",p.capY).attr("text-anchor","middle").attr("fill","#222").style("font","15px 'Liberation Serif'");
  t.append("tspan").text(p.cap[0]);
  t.append("tspan").style("font-style","italic").text("\u03c4");
  t.append("tspan").attr("dy",2).style("font-size","11px").text(p.cap[1]);
});
</script></body></html>
